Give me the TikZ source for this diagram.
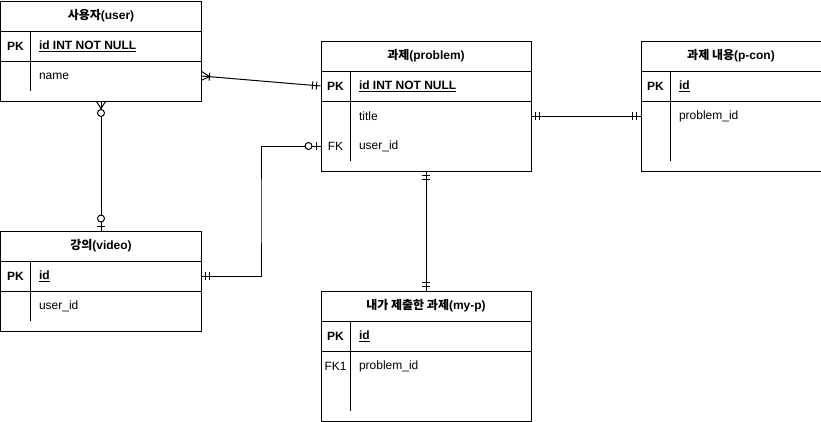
\documentclass[tikz,border=0pt]{standalone}
\usepackage{fontspec}
\setmainfont{Liberation Sans}
\newfontfamily\kr{Noto Sans CJK KR}
\usetikzlibrary{calc}
\newcommand\erbar[3]{\path ($(#1)!#3!(#2)$) coordinate (erm);
  \draw ($(erm)!4pt!90:(#2)$) -- ($(erm)!4pt!-90:(#2)$);}
\newcommand\ercirc[3]{\path ($(#1)!#3!(#2)$) coordinate (erm);
  \draw[fill=white] (erm) circle (3.5pt);}
\newcommand\ercrow[3]{\path ($(#1)!#3!(#2)$) coordinate (erm);
  \draw ($(#1)!4.5pt!90:(#2)$) -- (erm) -- ($(#1)!4.5pt!-90:(#2)$);}
\begin{document}
\begin{tikzpicture}[x=1pt,y=-1pt,line width=1pt,
  font=\fontsize{12pt}{14pt}\selectfont,
  cell/.style={draw,rectangle,inner sep=0pt,anchor=north west},
  row/.style={rectangle,inner sep=0pt,anchor=north west,minimum height=30pt},
  hdr/.style={font=\fontsize{12pt}{14pt}\selectfont\bfseries},
  keytxt/.style={inner sep=0pt,anchor=center,yshift=-1pt},
  pktxt/.style={inner sep=0pt,anchor=center,yshift=-1pt,font=\fontsize{12pt}{14pt}\selectfont\bfseries},
  fld/.style={inner sep=0pt,anchor=west,yshift=-1pt},
  pkfld/.style={inner sep=0pt,anchor=west,yshift=-1pt,font=\fontsize{12pt}{14pt}\selectfont\bfseries}]
\useasboundingbox (-0.5,-0.5) rectangle (820.5,420.5);

% ---------- user ----------
\node[cell,minimum width=200pt,minimum height=30pt,hdr] (user-h) at (0,0) {{\kr 사용자}(user)};
\node[cell,minimum width=200pt,minimum height=30pt] (user-pk) at (0,30) {};
\node[cell,minimum width=200pt,minimum height=40pt] (user-b) at (0,60) {};
\node[row,minimum width=200pt] (user-name) at (0,60) {};
\draw (30,30) -- (30,90);
\node[pktxt] (user-pkk) at (15,45) {PK};
\node[pkfld] (user-pkf) at (38,45) {\underline{id INT NOT NULL}};
\node[fld] (user-namef) at (38,75) {name};

% ---------- video ----------
\node[cell,minimum width=200pt,minimum height=30pt,hdr] (video-h) at (0,230) {{\kr 강의}(video)};
\node[cell,minimum width=200pt,minimum height=30pt] (video-pk) at (0,260) {};
\node[cell,minimum width=200pt,minimum height=40pt] (video-b) at (0,290) {};
\draw (30,260) -- (30,320);
\node[pktxt] (video-pkk) at (15,275) {PK};
\node[pkfld] (video-pkf) at (38,275) {\underline{id}};
\node[fld] (video-uidf) at (38,305) {user\_id};

% ---------- problem ----------
\node[cell,minimum width=210pt,minimum height=30pt,hdr] (prob-h) at (320,40) {{\kr 과제}(problem)};
\node[cell,minimum width=210pt,minimum height=30pt] (prob-pk) at (320,70) {};
\node[cell,minimum width=210pt,minimum height=70pt] (prob-b) at (320,100) {};
\node[row,minimum width=210pt] (prob-title) at (320,100) {};
\node[row,minimum width=210pt] (prob-uid) at (320,130) {};
\draw (350,70) -- (350,160);
\node[pktxt] (prob-pkk) at (335,85) {PK};
\node[pkfld] (prob-pkf) at (358,85) {\underline{id INT NOT NULL}};
\node[fld] (prob-titlef) at (358,115) {title};
\node[keytxt] (prob-fkk) at (335,145) {FK};
\node[fld] (prob-uidf) at (358,145) {user\_id};

% ---------- p-con ----------
\node[cell,minimum width=180pt,minimum height=30pt,hdr] (pcon-h) at (640,40) {{\kr 과제 내용}(p-con)};
\node[cell,minimum width=180pt,minimum height=30pt] (pcon-pk) at (640,70) {};
\node[cell,minimum width=180pt,minimum height=70pt] (pcon-b) at (640,100) {};
\node[row,minimum width=180pt] (pcon-pid) at (640,100) {};
\draw (670,70) -- (670,160);
\node[pktxt] (pcon-pkk) at (655,85) {PK};
\node[pkfld] (pcon-pkf) at (678,85) {\underline{id}};
\node[fld] (pcon-pidf) at (678,115) {problem\_id};

% ---------- my-p ----------
\node[cell,minimum width=210pt,minimum height=30pt,hdr] (myp-h) at (320,290) {{\kr 내가 제출한 과제}(my-p)};
\node[cell,minimum width=210pt,minimum height=30pt] (myp-pk) at (320,320) {};
\node[cell,minimum width=210pt,minimum height=70pt] (myp-b) at (320,350) {};
\draw (350,320) -- (350,410);
\node[pktxt] (myp-pkk) at (335,335) {PK};
\node[pkfld] (myp-pkf) at (358,335) {\underline{id}};
\node[keytxt] (myp-fkk) at (335,365) {FK1};
\node[fld] (myp-pidf) at (358,365) {problem\_id};

% ---------- connectors ----------
% user -- problem
\draw (user-name.east) -- (prob-pk.west);
\ercrow{user-name.east}{prob-pk.west}{8pt}
\erbar{user-name.east}{prob-pk.west}{8pt}
\erbar{prob-pk.west}{user-name.east}{4pt}
\erbar{prob-pk.west}{user-name.east}{8pt}

% user -- video
\draw (user-b.south) -- (video-h.north);
\ercrow{user-b.south}{video-h.north}{7pt}
\ercirc{user-b.south}{video-h.north}{11.5pt}
\erbar{video-h.north}{user-b.south}{4pt}
\ercirc{video-h.north}{user-b.south}{12pt}

% video -- problem
\coordinate (vp-mid) at ($(video-pk.east)!0.5!(prob-uid.west)$);
\draw (video-pk.east) -| (vp-mid) |- (prob-uid.west);
\coordinate (vp-a) at (vp-mid |- video-pk.east);
\coordinate (vp-b) at (vp-mid |- prob-uid.west);
\erbar{video-pk.east}{vp-a}{4pt}
\erbar{video-pk.east}{vp-a}{8pt}
\erbar{prob-uid.west}{vp-b}{4pt}
\ercirc{prob-uid.west}{vp-b}{12pt}

% problem -- p-con
\draw (prob-title.east) -- (pcon-pid.west);
\erbar{prob-title.east}{pcon-pid.west}{4pt}
\erbar{prob-title.east}{pcon-pid.west}{8pt}
\erbar{pcon-pid.west}{prob-title.east}{4pt}
\erbar{pcon-pid.west}{prob-title.east}{8pt}

% problem -- my-p
\draw (prob-b.south) -- (myp-h.north);
\erbar{prob-b.south}{myp-h.north}{4pt}
\erbar{prob-b.south}{myp-h.north}{8pt}
\erbar{myp-h.north}{prob-b.south}{4pt}
\erbar{myp-h.north}{prob-b.south}{8pt}
\end{tikzpicture}
\end{document}
